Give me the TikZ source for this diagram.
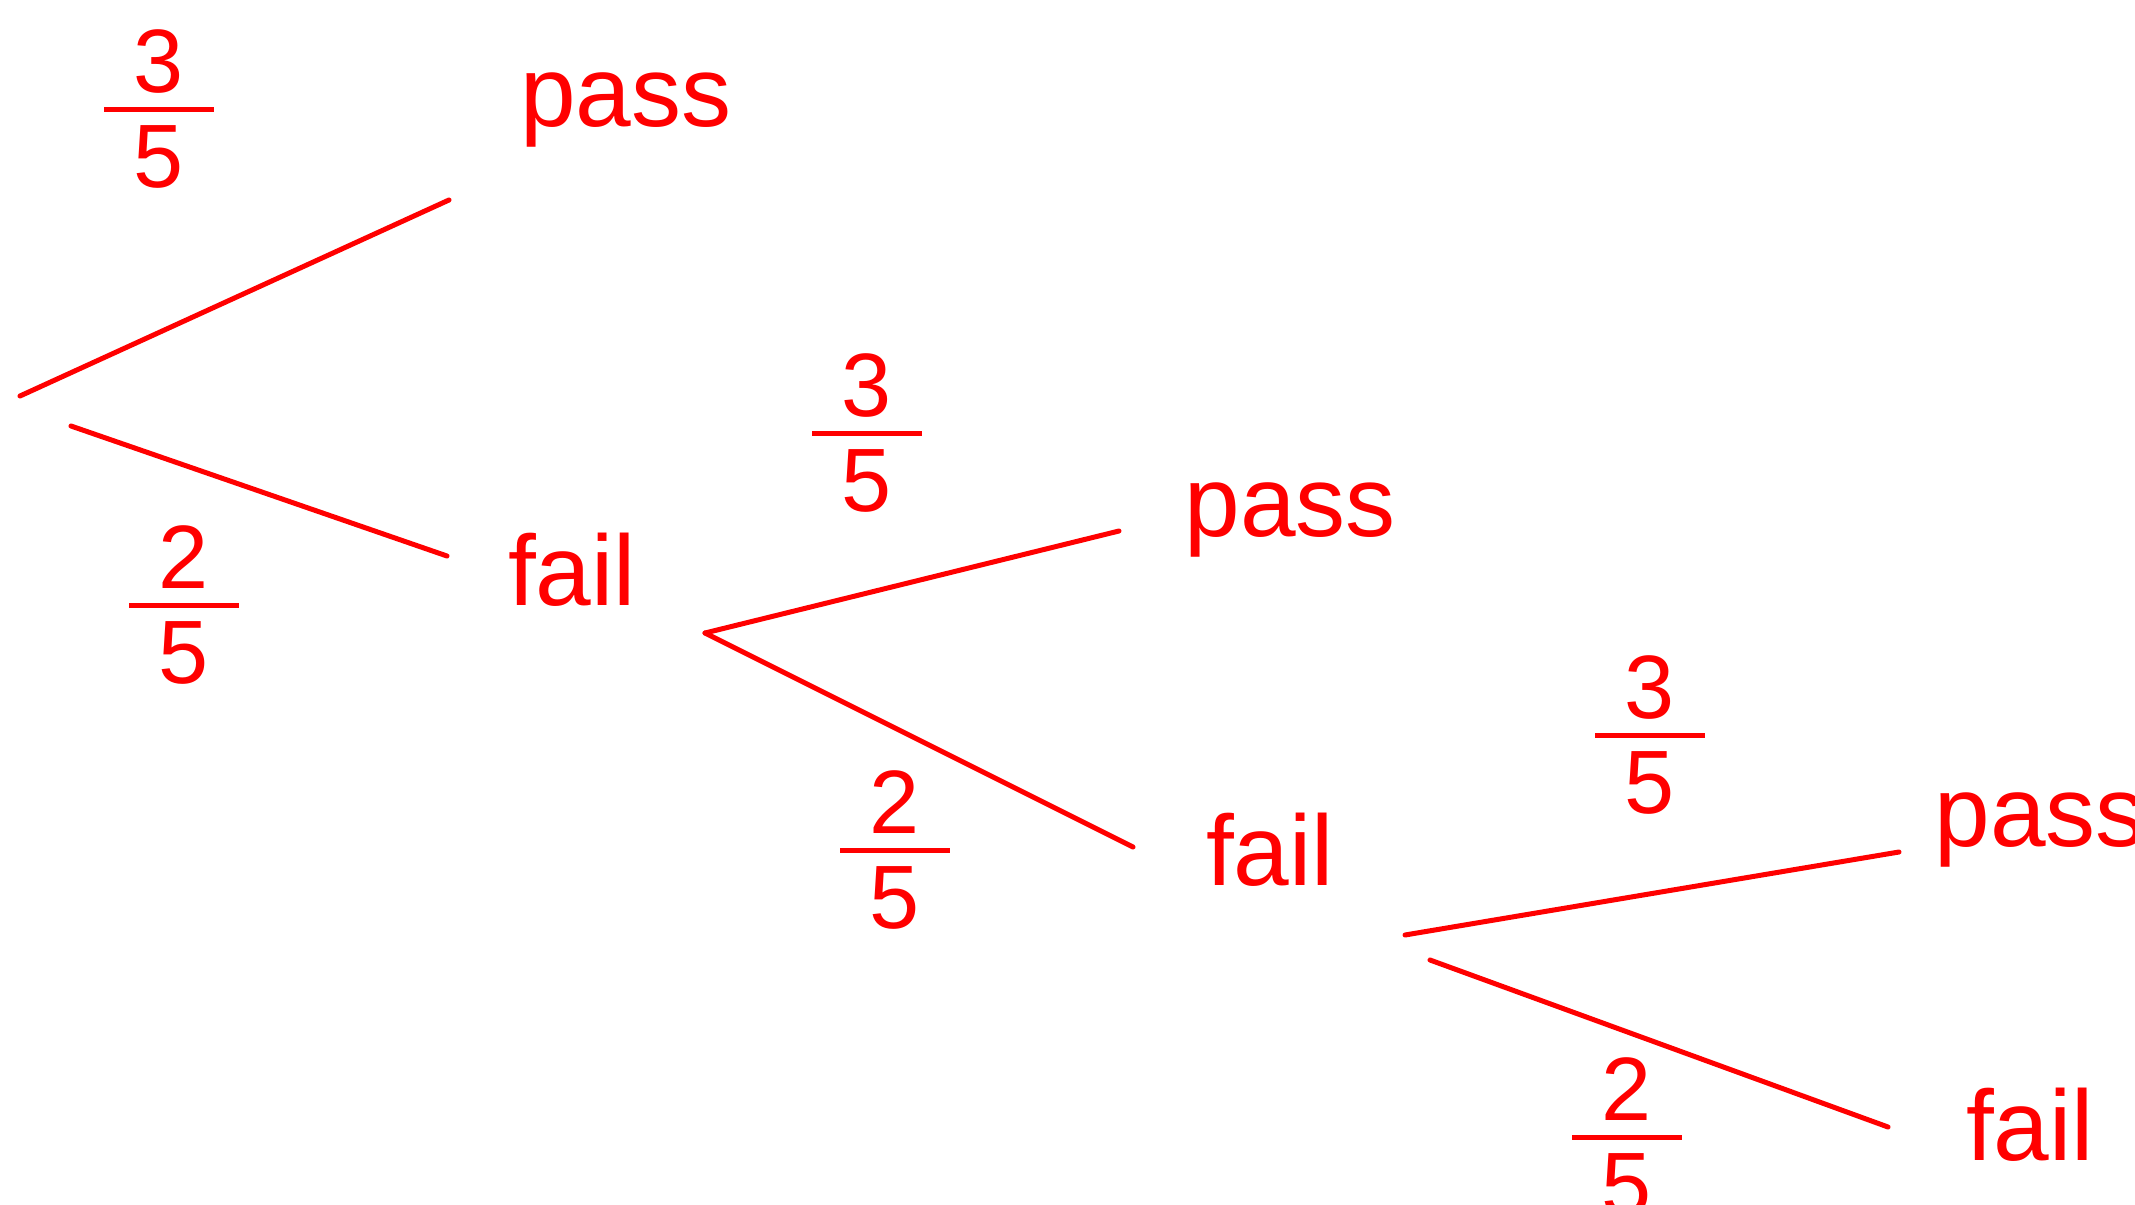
\documentclass[tikz,border=0pt]{standalone}
\usepackage{fontspec}
\setmainfont{Liberation Sans}
\definecolor{ink}{RGB}{255,0,0}
\newcommand\myfrac[2]{\vbox{\offinterlineskip\hbox to 110pt{\hss#1\hss}\kern14pt\hbox{\rule{110pt}{5pt}}\kern14pt\hbox to 110pt{\hss#2\hss}}}
\begin{document}
\begin{tikzpicture}[x=1pt,y=-1pt,
  branch/.style={draw=ink,line width=5pt,line cap=round},
  word/.style={text=ink,inner sep=0pt,font=\fontsize{100}{100}\selectfont},
  prob/.style={text=ink,inner sep=0pt,font=\fontsize{90}{90}\selectfont}]
\useasboundingbox[fill=white] (0,0) rectangle (2135,1204);
% branch end points
\coordinate (r1) at (20,396);   \coordinate (p1) at (449,200);
\coordinate (r2) at (71,426);   \coordinate (f1) at (447,556);
\coordinate (r3) at (705,633);  \coordinate (p2) at (1119,531);
\coordinate (f2) at (1133,847);
\coordinate (r4) at (1405,935); \coordinate (p3) at (1899,852);
\coordinate (r5) at (1430,960); \coordinate (f3) at (1888,1127);
\draw[branch] (r1) -- (p1);
\draw[branch] (r2) -- (f1);
\draw[branch] (r3) -- (p2);
\draw[branch] (r3) -- (f2);
\draw[branch] (r4) -- (p3);
\draw[branch] (r5) -- (f3);
% outcome words
\node[word] (wp1) at (626,110) {pass};
\node[word] (wf1) at (572,570) {fail};
\node[word] (wp2) at (1290,520) {pass};
\node[word] (wf2) at (1270,850) {fail};
\node[word] (wp3) at (2040,830) {pass};
\node[word] (wf3) at (2030,1125) {fail};
% probabilities
\node[prob] (q1) at (159,109) {\myfrac{3}{5}};
\node[prob] (q2) at (184,605) {\myfrac{2}{5}};
\node[prob] (q3) at (867,433) {\myfrac{3}{5}};
\node[prob] (q4) at (895,850) {\myfrac{2}{5}};
\node[prob] (q5) at (1650,735) {\myfrac{3}{5}};
\node[prob] (q6) at (1627,1137) {\myfrac{2}{5}};
\end{tikzpicture}
\end{document}
